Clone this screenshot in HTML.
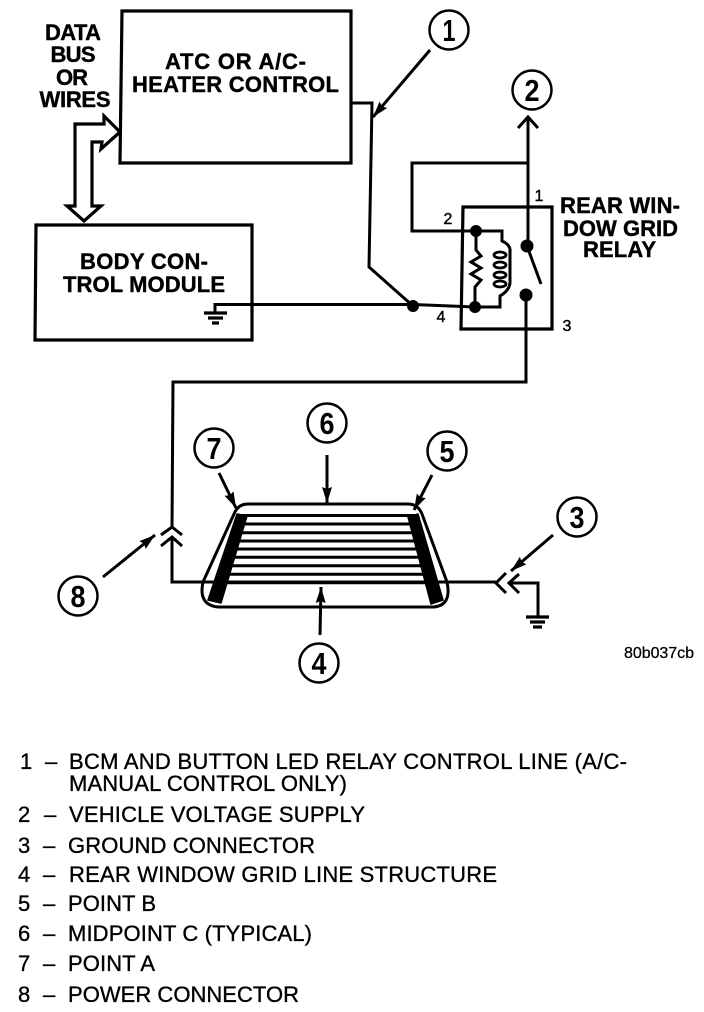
<!DOCTYPE html>
<html><head><meta charset="utf-8"><style>
html,body{margin:0;padding:0;background:#fff}
svg{display:block}
text{font-family:"Liberation Sans",sans-serif;fill:#000}
.b{font-weight:bold;font-size:22px;stroke:#000;stroke-width:.4}
.d{font-weight:bold;font-size:31px;text-anchor:middle}
.n{font-size:16px;text-anchor:middle;stroke:#000;stroke-width:.4}
.l{font-size:22px;stroke:#000;stroke-width:.35}
.w{fill:none;stroke:#000;stroke-width:3;stroke-linejoin:miter}
.t{fill:none;stroke:#000;stroke-width:3.200}
.c{fill:#fff;stroke:#000;stroke-width:2.500}
.a{fill:none;stroke:#000;stroke-width:3}
</style></head><body>
<svg width="704" height="1012" viewBox="0 0 704 1012" xmlns="http://www.w3.org/2000/svg">
<defs><marker id="m" markerUnits="userSpaceOnUse" markerWidth="18" markerHeight="14" refX="16" refY="7" orient="auto"><path d="M0 2L16 7L0 12L2 7Z" fill="#000"/></marker></defs>
<rect width="704" height="1012" fill="#fff"/>

<!-- boxes -->
<path class="t" d="M122 11H351V163H120Z"/>
<path class="t" d="M36 225H252V340H35Z"/>

<!-- double arrow -->
<path class="t" d="M92 206V142H102L101 149L120 132L104 116V124H75V206H67L84 221L101 206Z"/>

<text class="b" x="73" y="40" text-anchor="middle" textLength="56">DATA</text>
<text class="b" x="73" y="62" text-anchor="middle" textLength="45">BUS</text>
<text class="b" x="72" y="85" text-anchor="middle" textLength="32">OR</text>
<text class="b" x="75" y="107" text-anchor="middle" textLength="71">WIRES</text>
<text class="b" x="165" y="69" textLength="141">ATC OR A/C-</text>
<text class="b" x="132" y="92" textLength="207">HEATER CONTROL</text>
<text class="b" x="80" y="269" textLength="128">BODY CON-</text>
<text class="b" x="63" y="292" textLength="162">TROL MODULE</text>
<text class="b" x="560" y="213" textLength="120">REAR WIN-</text>
<text class="b" x="563" y="236" textLength="115">DOW GRID</text>
<text class="b" x="583" y="257" textLength="73">RELAY</text>

<!-- BCM ground + control line -->
<path class="w" d="M215 313V304.500H413L475 307"/>
<path class="t" d="M204 313H227M208 318H223M212 323H219"/>
<path class="w" d="M351 103H372L369 267L413 306"/>

<!-- relay -->
<path class="t" d="M463 207H552V329H461Z"/>
<path class="w" d="M528 118V243M528 163H412V231H476H502V241Q511 245 510 252V282Q510 290 500 296V307H475"/>
<path class="a" d="M518 128L528 117L538 128"/>
<path class="w" d="M476 231V250L481 256L471 262L481 268L471 274L481 280L475 287V307"/>
<g fill="none" stroke="#000" stroke-width="2.800"><ellipse cx="500" cy="255" rx="6" ry="3"/><ellipse cx="500" cy="265" rx="6" ry="3"/><ellipse cx="500" cy="275" rx="6" ry="3"/><ellipse cx="500" cy="284" rx="6" ry="3"/></g>
<path class="w" d="M527 246L541 284"/>
<g fill="#000"><circle cx="413" cy="306" r="6"/><circle cx="476" cy="231" r="6"/><circle cx="475" cy="307" r="6"/><circle cx="527" cy="246" r="6.500"/><circle cx="526" cy="295" r="6.500"/></g>
<text class="n" x="539" y="201">1</text>
<text class="n" x="448" y="224">2</text>
<text class="n" x="441" y="322">4</text>
<text class="n" x="567" y="331">3</text>

<!-- power line -->
<path class="w" d="M526 296V382H173L172 527"/>
<path class="a" d="M161 535L172 527L182 535M161 546L172 537L182 546"/>
<path class="w" d="M172 537V582H496"/>
<path class="a" d="M506 573L496 583L506 593M519 574L509 583L519 593"/>
<path class="w" d="M509 583H538V617"/>
<path class="t" d="M526 617H549M530 622H545M533 627H542"/>

<!-- window -->
<path class="w" d="M234 514Q238 504 248 504H408Q418 504 422 514L447 582Q452 605 434 607H218Q198 605 203 582Z"/>
<g stroke="#000" stroke-width="3"><path d="M240 515.500H415M238 524H418M235 532.700H420M232 541H422M230 549H425M227 557.300H427M225 565.700H430M222 574.300H432M218 582.700H436"/></g>
<g fill="#000" stroke="#000" stroke-width="1.500" stroke-linejoin="round"><path d="M237 514L247 516L221 603L208 600Z"/><path d="M408 517L418 514L443 600L431 604Z"/></g>

<!-- callouts -->
<g fill="none" stroke="#000" stroke-width="3">
<path d="M430 50L373 117" marker-end="url(#m)"/>
<path d="M327 455V503" marker-end="url(#m)"/>
<path d="M219 473L236 508" marker-end="url(#m)"/>
<path d="M103 577L155 535" marker-end="url(#m)"/>
<path d="M320 635L321 587" marker-end="url(#m)"/>
<path d="M432 475L414 510" marker-end="url(#m)"/>
<path d="M553 535L511 571" marker-end="url(#m)"/>
</g>
<circle class="c" cx="449" cy="30" r="19.500"/><text class="d" x="449" y="41" textLength="13" lengthAdjust="spacingAndGlyphs">1</text>
<circle class="c" cx="532" cy="90" r="19.500"/><text class="d" x="532" y="101" textLength="15" lengthAdjust="spacingAndGlyphs">2</text>
<circle class="c" cx="577" cy="517" r="19.500"/><text class="d" x="577" y="528" textLength="15" lengthAdjust="spacingAndGlyphs">3</text>
<circle class="c" cx="319" cy="663" r="19.500"/><text class="d" x="319" y="674" textLength="15" lengthAdjust="spacingAndGlyphs">4</text>
<circle class="c" cx="447" cy="451" r="19.500"/><text class="d" x="447" y="462" textLength="15" lengthAdjust="spacingAndGlyphs">5</text>
<circle class="c" cx="327" cy="423" r="19.500"/><text class="d" x="327" y="434" textLength="15" lengthAdjust="spacingAndGlyphs">6</text>
<circle class="c" cx="214" cy="448" r="19.500"/><text class="d" x="214" y="459" textLength="15" lengthAdjust="spacingAndGlyphs">7</text>
<circle class="c" cx="78" cy="596" r="19.500"/><text class="d" x="78" y="607" textLength="15" lengthAdjust="spacingAndGlyphs">8</text>

<text x="624" y="658" font-size="16" textLength="70" stroke="#000" stroke-width=".25">80b037cb</text>

<!-- legend -->
<text class="l" x="20" y="769">1</text><text class="l" x="45" y="769">–</text><text class="l" x="69" y="769" textLength="558">BCM AND BUTTON LED RELAY CONTROL LINE (A/C-</text>
<text class="l" x="69" y="791" textLength="278">MANUAL CONTROL ONLY)</text>
<text class="l" x="18" y="822">2</text><text class="l" x="44" y="822">–</text><text class="l" x="69" y="822" textLength="296">VEHICLE VOLTAGE SUPPLY</text>
<text class="l" x="18" y="853">3</text><text class="l" x="43" y="853">–</text><text class="l" x="68" y="853" textLength="247">GROUND CONNECTOR</text>
<text class="l" x="18" y="882">4</text><text class="l" x="43" y="882">–</text><text class="l" x="69" y="882" textLength="428">REAR WINDOW GRID LINE STRUCTURE</text>
<text class="l" x="18" y="911">5</text><text class="l" x="43" y="911">–</text><text class="l" x="68" y="911" textLength="88">POINT B</text>
<text class="l" x="18" y="941">6</text><text class="l" x="43" y="941">–</text><text class="l" x="68" y="941" textLength="244">MIDPOINT C (TYPICAL)</text>
<text class="l" x="18" y="971">7</text><text class="l" x="43" y="971">–</text><text class="l" x="68" y="971" textLength="87">POINT A</text>
<text class="l" x="18" y="1002">8</text><text class="l" x="43" y="1002">–</text><text class="l" x="68" y="1002" textLength="231">POWER CONNECTOR</text>
</svg>
</body></html>
